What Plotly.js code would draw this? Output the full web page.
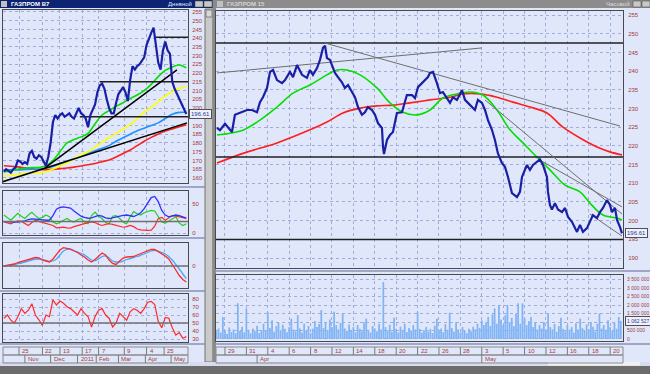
<!DOCTYPE html>
<html><head><meta charset="utf-8">
<script src="https://cdn.plot.ly/plotly-3.0.1.min.js"></script>
<style>html,body{margin:0;padding:0;background:#e1e7fa;overflow:hidden}#c{width:650px;height:374px}</style>
</head><body><div id="c"></div><script>
// ---------- LEFT (daily) window data ----------
const leftDayTicks=[0,20,35,54,68,90,109,124];
const leftDayLabels=['25','22','13','17','7','9','4','25'];
const leftMonthTicks=[5,27,50,66,85,108,130];
const leftMonthLabels=['Nov','Dec','2011','Feb','Mar','Apr','May'];
const leftStart=-13, leftStep=2;
const leftClose=[163.5,165,164,163,165,166,170,
169.5,168,169,168,174,175.5,172,171,173,172,
169,167,172,180,192,196,194,196,197,195,
196,197,195,194,197,200,197,196,194,189,
196,199,202,209,213,214,211,205,200,197,
197,203,208,210,212,209,204,216,224,222,
224,225,227,229,236,240,243,246,235,226,
222,233,238,233,231,215,211,208,205,203,
199,196.61];
const leftMAStart=-13, leftMAStep=6;
const leftMAGreen=[163.5,164,165,165.5,166,166,167,170,175,180,182,183.5,185.5,191,196,198.5,201,203,205.5,207.5,210,213.5,218,221.5,223.5,224.6,223];
const leftMAYellow=[161,161.5,162,162.5,162.8,163,163.5,165,167,168.5,171,173,175,177.5,180.5,183,185.5,188,190.5,194,197.5,200.5,203.5,207,209.5,211.3,212];
const leftMABlue=[164.6,164.6,164.6,164.8,165,165,165.5,166.5,168,169.5,171,172.5,174,175.5,177,178.5,181,183,185,187,188.5,190,191.5,194,196.5,197.5,197.6];
const leftMARed=[167,166.7,166.3,165.8,165.3,164.9,164.7,164.9,165.3,165.7,166.2,166.8,167.5,168.3,169.3,170.3,172,174,176,178.5,181,183.2,185.2,186.8,188,189.3,190.5];
const leftLevelValues=[240.5,215,195];
const leftLevelFrom=[116,69,52];
const leftTrendX=[[-14.5,143.6],[22.2,135]];
const leftTrendY=[[157.7,191.5],[165.7,221.8]];
// indicator panels (step 3)
const indStart=-13, indStep=3;
const adxBlue=[19.5,19,18.5,19,19,19.5,21,23,24.5,24,23,22,22,22,30,41,44,45,44.5,43,38,33,29,27,25.5,26,28,30.5,29,26,25,26.5,28,29,30.5,31,29.5,28.5,31,35,42,52,61,63,54,39,31,28,29,31,30,28,25.5];
const adxGreen=[31,27,22,28,34,29,25,31,35.6,30,25,27,31,28,19,16,18,22,25,21,19,23,25,19,16,30,36,29,25,18,16,29,30,25,19,16,28,37,33,31,35,37,39,38,28,19,17,21,24,28,17,13,16];
const adxRed=[19,17,16,19,21,20,16,13,18,22,20,18,16,15,13,9,10,10,9,8.6,11,13,15,16,18,19,18,15,13,15,16,15,13,12,10,11,13,11,7,5.5,4.6,4.6,5,12,25,27,22,26,30,29,28,26,25];
const macdRed=[0,0.5,1,2,3.5,4.5,5.5,6.5,7.5,8.5,8,6,5,4,7,11,16,18.3,18,17,15,13.5,11,9,6,4,6.5,10,13,11,6,2.5,1.5,5,8,9,9,9.5,11,12.3,13.5,15,16.5,16.5,14.5,12.5,10,7,2,-4,-9.5,-13.5,-16];
const macdBlue=[0,0.3,0.8,1.5,2.3,3,4,5,6,6.7,7,6.5,5.5,4.7,5,7,11,15,16.7,16.5,15.5,14,12.5,11,8.5,6,5.5,7,9.5,10,8,5,4,4,5,6.5,7.5,8.5,9.5,10.7,12,13.5,15,15.7,15,13.5,12,9.5,6,1.5,-3,-8,-12.7];
const rsiRed=[55.8,60,53.5,50,57.7,68,62,66,74,60,54,47,60,58,79,72.5,77.5,74.6,70.4,68,64,60,68,62,58,45,58,66,68,60,56,45,50,62,58,53.5,64,68,66,62,68,76,77,73,52,44,57,56,44,35,38,31,33];
const adxLevel=20, macdLevel=0, rsiLevel=50;

// ---------- RIGHT (hourly) window data ----------
const rightDayTicks=[0,2,4,6,8,10,12,14,16,18,20,22,24,26,28,30,32,34,36];
const rightDayLabels=['29','31','4','6','8','12','14','18','20','22','26','28','3','5','10','12','16','18','20'];
const rightMonthTicks=[3,24];
const rightMonthLabels=['Apr','May'];
const rightPriceDay=[-0.75,-0.47,0,0.28,0.65,0.93,1.4,2.06,2.52,2.99,3.27,3.55,3.93,4.21,4.49,4.86,5.33,5.61,6.07,6.36,6.73,7.2,7.66,7.94,8.22,8.6,8.88,9.16,9.35,9.53,9.81,10.09,10.28,10.56,10.93,11.21,11.5,11.87,12.15,12.43,12.8,13.08,13.36,13.74,14.02,14.3,14.67,14.77,14.86,15.14,15.42,15.7,16.07,16.54,17.0,17.48,17.76,18.04,18.5,18.97,19.16,19.44,19.81,20.09,20.37,20.75,21.03,21.31,21.68,22.15,22.43,22.71,23.08,23.36,23.64,24.02,24.3,24.58,24.95,25.23,25.51,25.89,26.17,26.45,26.82,27.29,27.57,27.76,28.22,28.5,28.79,29.16,29.44,29.72,30.09,30.19,30.37,30.56,30.84,31.12,31.5,31.78,32.06,32.43,32.71,32.9,33.18,33.46,33.83,34.11,34.39,34.77,35.05,35.33,35.7,35.98,36.17,36.45,36.64,36.92,37.1];
const rightPrice=[224.8,224.2,225.9,225,223.7,228.3,228.8,229.6,229.6,229,231.7,233,235.5,239.8,240.3,237.6,236.8,237.6,239.8,238.4,241.6,239,238.2,240.3,239,240.8,243,246.2,246.8,243.5,243,240.8,239.5,238.4,237,235.5,236.3,234.4,233,230.4,228.3,229,230.4,229.6,228.3,226.1,224.8,219.7,217.8,221.6,222.9,223.7,228.8,229,233.6,233.6,232.8,235.7,237,238.4,239.5,239.8,236.8,234.1,234.4,232.8,231.5,233,232.3,234.9,232.3,231.5,230.4,229.6,232.3,231.5,229.6,226.9,224.3,221.6,218,215.4,214.4,211.7,207.4,206.3,207.7,211.7,214.9,213.6,214.9,215.7,216.4,214.9,211.7,207.7,204.2,203,204.7,203,202.3,203.4,201,199.7,198,197,198.9,197,198,199.7,201.5,200.7,202.3,203.4,205.5,204.2,202.3,203.4,200.2,198.3,196.61];
const rightGreenDay=[-0.75,0.47,1.68,3.27,4.86,6.36,7.94,9.53,10.47,11.4,12.62,14.2,15.42,16.64,17.94,19.16,20.37,21.68,22.9,24.11,25.42,26.64,27.85,29.16,30.37,31.78,33.18,34.11,35.33,36.64,37.1];
const rightGreen=[222.9,223.4,224.2,226.9,230.4,234.1,236.3,239,240.3,240.3,239,235.5,231.5,229,228.3,229.6,232.8,233.9,234.4,233.6,229.6,224.3,220.8,217,213.6,209.5,207.7,204.7,201.5,200.7,200.2];
const rightRedDay=[-0.75,1.68,4.86,7.94,9.53,11.03,12.62,14.2,15.7,17.29,19.16,21.03,22.24,23.83,25.42,26.92,28.5,30.09,31.59,33.18,34.77,35.98,37.1];
const rightRed=[215.4,218,220.8,224.3,226.4,228.8,230.1,230.7,230.9,231.5,232.3,233,233.9,233.9,233,231.7,230.4,228.8,225,222.1,219.7,218.4,217.6];
const rightLevelValues=[247.5,217,195];
const rightTrendX=[[-0.75,24.02],[9.35,36.92],[24.3,37.1],[29.44,37.1],[34.1,37.1]];
const rightTrendY=[[239.5,246.2],[247.5,225.3],[232.3,201.8],[216.2,203.7],[201.8,195.9]];
const volStart=-0.8, volStep=0.2;
const volK=[450,620,380,1300,520,300,680,410,560,350,
2100,480,720,390,1800,540,330,610,450,780,
360,520,900,470,1600,650,1100,430,760,980,
520,840,610,390,700,1200,560,450,1400,620,
380,900,520,760,340,610,1050,700,880,1700,
640,980,520,1150,700,1600,820,560,940,1500,
620,480,860,540,700,390,820,600,450,980,
1200,540,380,760,620,450,880,560,3350,700,
520,840,430,1250,600,380,720,540,900,410,
650,480,820,560,1600,600,380,520,700,440,
600,350,780,1200,480,620,400,880,540,1550,
650,420,980,560,380,700,520,340,600,450,
720,560,900,640,1100,820,980,1300,760,1450,
1800,900,2000,1150,820,1400,2000,980,1250,760,
1500,2100,900,2100,1200,820,1050,1300,700,940,
560,820,620,1000,480,1500,700,560,880,420,
760,1250,600,450,820,540,700,380,920,560,
1200,640,480,860,560,1000,720,440,900,1500,
620,820,540,1100,700,480,960,600,1300,1062.527];
const volTickVals=[0,500000,1000000,1500000,2000000,2500000,3000000,3500000];
const volTickText=['0','500 000','1 000 000','1 500 000','2 000 000','2 500 000','3 000 000','3 500 000'];
const leftTitle='ГАЗПРОМ В7', leftMode='Дневной', rightTitle='ГАЗПРОМ 15', rightMode='Часовой';

// ---------- build ----------
const W=650,H=374;
const px=x=>x/W, py=y=>1-y/H;
const F='Liberation Sans, Arial, sans-serif';
const tickFont={family:F,size:6,color:'#a33a3a'};
const smallFont={family:F,size:5,color:'#a33a3a'};
const GRID='#a2acd8';
const LRANGE=[-13.68,144.44], RRANGE=[-0.84,37.2];
const seq=(n,s,st)=>Array.from({length:n},(_,i)=>s+i*st);
const leftX=seq(leftClose.length,leftStart,leftStep);
const leftMAX=seq(leftMAGreen.length,leftMAStart,leftMAStep);
const indX=seq(adxBlue.length,indStart,indStep);
const volX=seq(volK.length,volStart,volStep);
const vol=volK.map(v=>v*1000);

function xa(domain,range,ticks,extra){return Object.assign({domain,range,tickvals:ticks,showticklabels:false,ticks:'',showgrid:true,gridcolor:GRID,griddash:'dot',gridwidth:1,zeroline:false,showline:true,mirror:true,linecolor:'#4a4a4a',linewidth:1,fixedrange:true},extra||{});}
function ya(domain,range,extra){return Object.assign({domain,range,side:'right',showgrid:true,gridcolor:GRID,griddash:'dot',gridwidth:1,zeroline:false,showline:true,mirror:true,linecolor:'#4a4a4a',linewidth:1,tickfont:tickFont,ticks:'',ticklabelstandoff:2,fixedrange:true},extra||{});}
function ln(x,y,xr,yr,color,width,shape){return {type:'scatter',mode:'lines',x,y,xaxis:xr,yaxis:yr,line:{color,width,shape:shape||'linear'},hoverinfo:'skip'};}

const data=[];
// left main
data.push(ln(leftMAX,leftMARed,'x','y','#ff1e1e',1.6,'spline'));
data.push(ln(leftMAX,leftMABlue,'x','y','#1e90ff',1.6,'spline'));
data.push(ln(leftMAX,leftMAYellow,'x','y','#ffff00',1.6,'spline'));
data.push(ln(leftMAX,leftMAGreen,'x','y','#00e000',1.6,'spline'));
leftLevelValues.forEach((v,i)=>data.push(ln([leftLevelFrom[i],LRANGE[1]],[v,v],'x','y','#202020',1.5)));
leftTrendX.forEach((xs,i)=>data.push(ln(xs,leftTrendY[i],'x','y','#000000',1.5)));
data.push(ln(leftX,leftClose,'x','y','#1a20a6',2.2));
// left ADX
data.push(ln(indX,adxGreen,'x4','y4','#20d020',1.2));
data.push(ln(indX,adxRed,'x4','y4','#ff2a2a',1.2));
data.push(ln(indX,adxBlue,'x4','y4','#3030ff',1.3));
// left MACD
data.push(ln(indX,macdBlue,'x5','y5','#40a8ff',1.3,'spline'));
data.push(ln(indX,macdRed,'x5','y5','#ff2a2a',1.3));
// left RSI
data.push(ln(indX,rsiRed,'x6','y6','#ff2a2a',1.2));
// right main
data.push(ln(rightRedDay,rightRed,'x2','y2','#ff1e1e',1.6,'spline'));
data.push(ln(rightGreenDay,rightGreen,'x2','y2','#00e000',1.6,'spline'));
rightLevelValues.forEach(v=>data.push(ln(RRANGE,[v,v],'x2','y2','#202020',1.5)));
rightTrendX.forEach((xs,i)=>data.push(ln(xs,rightTrendY[i],'x2','y2','#6e6e6e',1)));
data.push(ln(rightPriceDay,rightPrice,'x2','y2','#1a20a6',2.2));
// volume
data.push({type:'bar',x:volX,y:vol,xaxis:'x3',yaxis:'y3',marker:{color:'#80b4f4',line:{width:0}},hoverinfo:'skip'});

const shapes=[], ann=[];
const rect=(x0,y0,x1,y1,fill,lc,lw)=>shapes.push({type:'rect',xref:'paper',yref:'paper',x0:px(x0),x1:px(x1),y0:py(y1),y1:py(y0),fillcolor:fill,line:{color:lc||fill,width:lw===undefined?0:lw},layer:'below'});
const hline=(x0,x1,y,c,w)=>shapes.push({type:'line',xref:'paper',yref:'paper',x0:px(x0),x1:px(x1),y0:py(y),y1:py(y),line:{color:c,width:w},layer:'below'});
// window chrome
rect(0,0,213,8,'#0c2472');
rect(215,0,650,8,'#8c8c8c');
rect(205,9,213,362,'#c9c9c9','#707070',1);
rect(206,10,212,17,'#d8d8d8','#808080',1);
rect(212.5,0,216,374,'#8a8a8a');
rect(0,362,650,366,'#d6dbee');
rect(0,366,650,374,'#6c6c6c');
rect(548,362,640,365.5,'#f0f0f0');
rect(1,1,7,7,'#c0c0c0');
rect(195,1,203,7,'#c8c8c8','#404040',0.5); rect(204,1,212,7,'#c8c8c8','#404040',0.5);
rect(633,1,641,7,'#c8c8c8','#404040',0.5); rect(642,1,650,7,'#c8c8c8','#404040',0.5);
rect(217,1,223,7,'#c0c0c0');
// splitters
[187,238,291,344].forEach(y=>hline(0,205,y,'#8890b4',1.5));
[271,344].forEach(y=>hline(216,650,y,'#8890b4',1.5));
// indicator reference lines
const refLine=(yr,xr,v,r)=>shapes.push({type:'line',xref:xr,yref:yr,x0:r[0],x1:r[1],y0:v,y1:v,line:{color:'#707070',width:1.5}});
refLine('y4','x',adxLevel,LRANGE); refLine('y5','x',macdLevel,LRANGE); refLine('y6','x',rsiLevel,LRANGE);
// date rows
function dateRows(xr,x0,x1,dayT,dayL,monT,monL){
  rect(x0,347,x1,355,'rgba(0,0,0,0)','#8a8a8a',1);
  rect(x0,355,x1,363,'rgba(0,0,0,0)','#8a8a8a',1);
  dayT.forEach((t,i)=>{shapes.push({type:'line',xref:xr,yref:'paper',x0:t,x1:t,y0:py(355),y1:py(347),line:{color:'#7a7a7a',width:1}});
    ann.push({xref:xr,yref:'paper',x:t,y:py(351),xanchor:'left',yanchor:'middle',xshift:1,text:dayL[i],showarrow:false,font:tickFont});});
  monT.forEach((t,i)=>{shapes.push({type:'line',xref:xr,yref:'paper',x0:t,x1:t,y0:py(363),y1:py(355),line:{color:'#7a7a7a',width:1}});
    ann.push({xref:xr,yref:'paper',x:t,y:py(359),xanchor:'left',yanchor:'middle',xshift:1,text:monL[i],showarrow:false,font:tickFont});});
}
dateRows('x',3,188,leftDayTicks,leftDayLabels,leftMonthTicks,leftMonthLabels);
dateRows('x2',216,623,rightDayTicks,rightDayLabels,rightMonthTicks,rightMonthLabels);
// titles
const tfont=(c,b)=>({family:F,size:6,color:c,weight:b?'bold':'normal'});
ann.push({xref:'paper',yref:'paper',x:px(9),y:py(4),xanchor:'left',yanchor:'middle',text:leftTitle,showarrow:false,font:tfont('#ffffff',true)});
ann.push({xref:'paper',yref:'paper',x:px(194),y:py(4),xanchor:'right',yanchor:'middle',text:leftMode,showarrow:false,font:tfont('#dfe6ff',false)});
ann.push({xref:'paper',yref:'paper',x:px(225),y:py(4),xanchor:'left',yanchor:'middle',text:rightTitle,showarrow:false,font:tfont('#d4d4d4',true)});
ann.push({xref:'paper',yref:'paper',x:px(632),y:py(4),xanchor:'right',yanchor:'middle',text:rightMode,showarrow:false,font:tfont('#dcdcdc',false)});
// current value boxes
const fmt=n=>Math.round(n).toString().replace(/\B(?=(\d{3})+(?!\d))/g,' ');
const box=(x,yr,y,t,fs)=>ann.push({xref:'paper',yref:yr,x:px(x),y,xanchor:'left',yanchor:'middle',text:t,showarrow:false,font:{family:F,size:fs,color:'#2a3a90'},bgcolor:'#eef1fd',bordercolor:'#505050',borderwidth:1,borderpad:1});
box(189,'y',leftClose[leftClose.length-1],leftClose[leftClose.length-1].toFixed(2),6);
box(625,'y2',rightPrice[rightPrice.length-1],rightPrice[rightPrice.length-1].toFixed(2),6);
box(625,'y3',vol[vol.length-1],fmt(vol[vol.length-1]),5);

const layout={width:W,height:H,margin:{l:0,r:0,t:0,b:0},paper_bgcolor:'#e1e7fa',plot_bgcolor:'rgba(0,0,0,0)',showlegend:false,hovermode:false,bargap:0.18,
 xaxis:xa([px(3),px(188)],LRANGE,leftDayTicks,{anchor:'y'}),
 yaxis:ya([py(183),py(10)],[157.1,256.1],{anchor:'x',dtick:5,tick0:0}),
 xaxis4:xa([px(3),px(188)],LRANGE,leftDayTicks,{anchor:'y4'}),
 yaxis4:ya([py(235),py(191)],[-3.4,72.4],{anchor:'x4',tickvals:[0,50]}),
 xaxis5:xa([px(3),px(188)],LRANGE,leftDayTicks,{anchor:'y5'}),
 yaxis5:ya([py(288),py(243)],[-22,23],{anchor:'x5',tickvals:[0]}),
 xaxis6:xa([px(3),px(188)],LRANGE,leftDayTicks,{anchor:'y6'}),
 yaxis6:ya([py(342),py(294)],[26.25,86.25],{anchor:'x6',tickvals:[30,40,50,60,70,80]}),
 xaxis2:xa([px(216),px(623)],RRANGE,rightDayTicks,{anchor:'y2'}),
 yaxis2:ya([py(268),py(11)],[187.35,256.07],{anchor:'x2',dtick:5,tick0:0,ticklabelstandoff:3}),
 xaxis3:xa([px(216),px(623)],RRANGE,rightDayTicks,{anchor:'y3'}),
 yaxis3:ya([py(341),py(275)],[-118000,3765000],{anchor:'x3',tickvals:volTickVals,ticktext:volTickText,ticklabelstandoff:2,tickfont:smallFont}),
 shapes,annotations:ann};
Plotly.newPlot('c',data,layout,{staticPlot:true,displayModeBar:false});
</script></body></html>
